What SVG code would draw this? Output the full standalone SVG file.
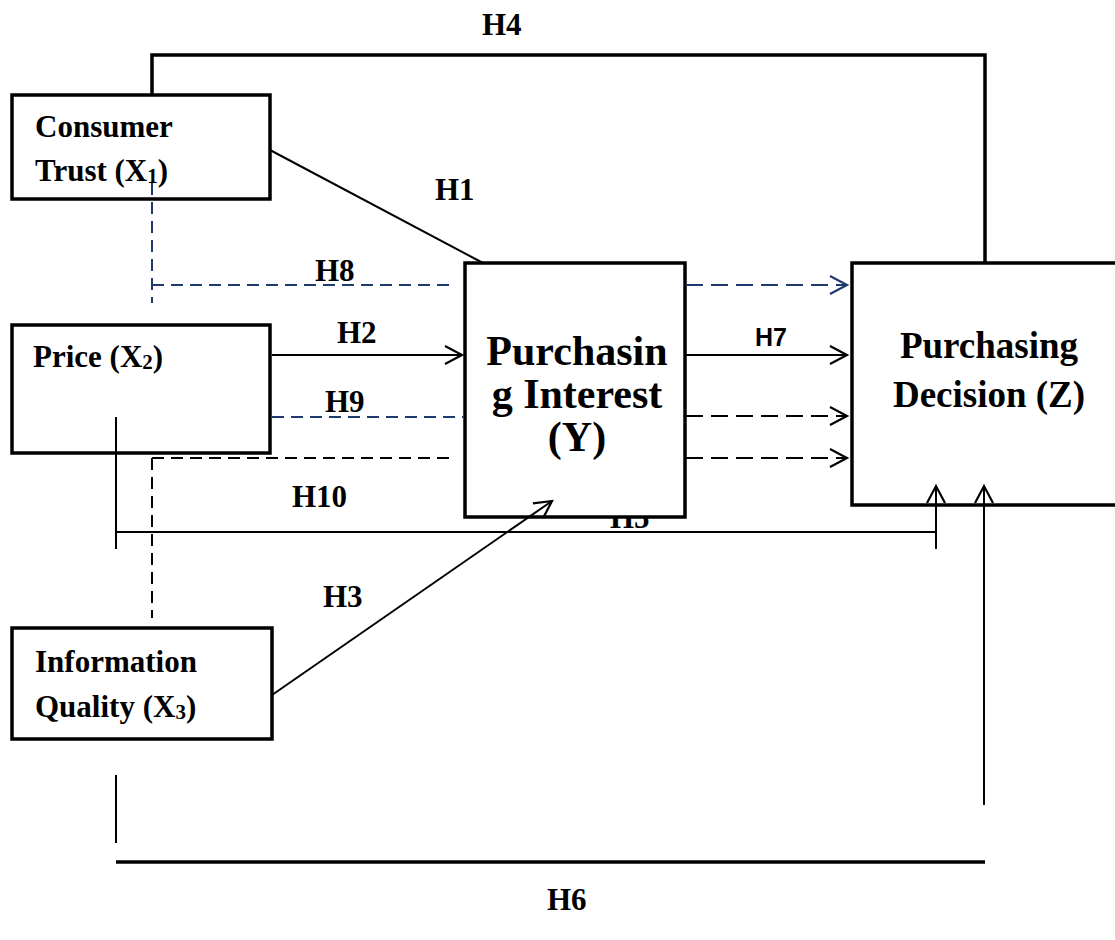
<svg xmlns="http://www.w3.org/2000/svg" width="1115" height="940" viewBox="0 0 1115 940">
<style>
.box{fill:#fff;stroke:#000;stroke-width:3.5}
.t{font-family:"Liberation Serif","Times New Roman",serif;font-weight:bold;fill:#000}
.lbl{font-size:31px}
.big{font-size:37px}
.pi{font-size:42px}
.h7{font-family:"Liberation Sans",Arial,sans-serif;font-weight:bold;font-size:25px}
.ln{fill:none;stroke:#000;stroke-width:2}
.thick{fill:none;stroke:#000;stroke-width:3.5}
.dn{fill:none;stroke:#1F3A6E;stroke-width:2;stroke-dasharray:12 7}
.db{fill:none;stroke:#000;stroke-width:2;stroke-dasharray:12 7}
.dr{fill:none;stroke:#000;stroke-width:2;stroke-dasharray:17 8}
.drn{fill:none;stroke:#1F3A6E;stroke-width:2;stroke-dasharray:17 8}
</style>
<defs>
<marker id="ab" markerUnits="userSpaceOnUse" markerWidth="22" markerHeight="24" refX="19" refY="11" orient="auto">
<path d="M2,2 L19,11 L2,20" fill="none" stroke="#000" stroke-width="2.2"/>
</marker>
<marker id="an" markerUnits="userSpaceOnUse" markerWidth="22" markerHeight="24" refX="19" refY="11" orient="auto">
<path d="M2,2 L19,11 L2,20" fill="none" stroke="#1F3A6E" stroke-width="2.2"/>
</marker>
</defs>
<text class="t lbl" x="610" y="528">H5</text>
<g id="consumer-trust">
<rect class="box" x="12" y="95" width="258" height="104"/>
<text class="t lbl" x="35" y="137">Consumer</text>
<text class="t lbl" x="35" y="181">Trust (X<tspan font-size="21" dy="2">1</tspan><tspan dy="-2">)</tspan></text>
</g>
<g id="price">
<rect class="box" x="12" y="325" width="258" height="128"/>
<text class="t lbl" x="33" y="367">Price (X<tspan font-size="21" dy="2">2</tspan><tspan dy="-2">)</tspan></text>
</g>
<g id="information-quality">
<rect class="box" x="12" y="628" width="260" height="111"/>
<text class="t lbl" x="35" y="672">Information</text>
<text class="t lbl" x="35" y="717">Quality (X<tspan font-size="21" dy="2">3</tspan><tspan dy="-2">)</tspan></text>
</g>
<g id="purchasing-interest">
<rect class="box" x="465" y="263" width="220" height="254"/>
<text class="t pi" x="577" y="365" text-anchor="middle">Purchasin</text>
<text class="t pi" x="577" y="408" text-anchor="middle">g Interest</text>
<text class="t pi" x="577" y="451" text-anchor="middle">(Y)</text>
</g>
<g id="purchasing-decision">
<path class="box" d="M1118,263 H852 V505 H1118"/>
<text class="t big" x="989" y="358" text-anchor="middle">Purchasing</text>
<text class="t big" x="989" y="407" text-anchor="middle">Decision (Z)</text>
</g>
<g id="connectors">
<path class="thick" d="M152,95 V55 H985 V263"/>
<line class="ln" x1="270" y1="150" x2="483" y2="263"/>
<line class="dn" x1="152" y1="183" x2="152" y2="303"/>
<line class="dn" x1="152" y1="285" x2="456" y2="285"/>
<line class="ln" x1="272" y1="355" x2="462" y2="355" marker-end="url(#ab)"/>
<line class="dn" x1="272" y1="417" x2="463" y2="417"/>
<line class="db" x1="152" y1="458" x2="456" y2="458"/>
<line class="db" x1="152" y1="458" x2="152" y2="618"/>
<line class="drn" x1="686" y1="285" x2="847" y2="285" marker-end="url(#an)"/>
<line class="ln" x1="686" y1="355" x2="847" y2="355" marker-end="url(#ab)"/>
<line class="dr" x1="686" y1="416" x2="847" y2="416" marker-end="url(#ab)"/>
<line class="dr" x1="686" y1="458" x2="847" y2="458" marker-end="url(#ab)"/>
<line class="ln" x1="116" y1="417" x2="116" y2="549"/>
<line class="ln" x1="116" y1="532" x2="936" y2="532"/>
<line class="ln" x1="936" y1="549" x2="936" y2="486" marker-end="url(#ab)"/>
<line class="ln" x1="272" y1="695" x2="552" y2="501" marker-end="url(#ab)"/>
<line class="ln" x1="116" y1="775" x2="116" y2="843"/>
<line class="thick" x1="116" y1="862" x2="985" y2="862"/>
<line class="ln" x1="984" y1="805" x2="984" y2="486" marker-end="url(#ab)"/>
</g>
<g id="labels">
<text class="t lbl" x="482" y="35">H4</text>
<text class="t lbl" x="435" y="200">H1</text>
<text class="t lbl" x="315" y="281">H8</text>
<text class="t lbl" x="337" y="343">H2</text>
<text class="t lbl" x="325" y="412">H9</text>
<text class="t lbl" x="292" y="507">H10</text>
<text class="t lbl" x="323" y="607">H3</text>
<text class="t lbl" x="547" y="910">H6</text>
<text class="h7" x="755" y="346">H7</text>
</g>
</svg>
